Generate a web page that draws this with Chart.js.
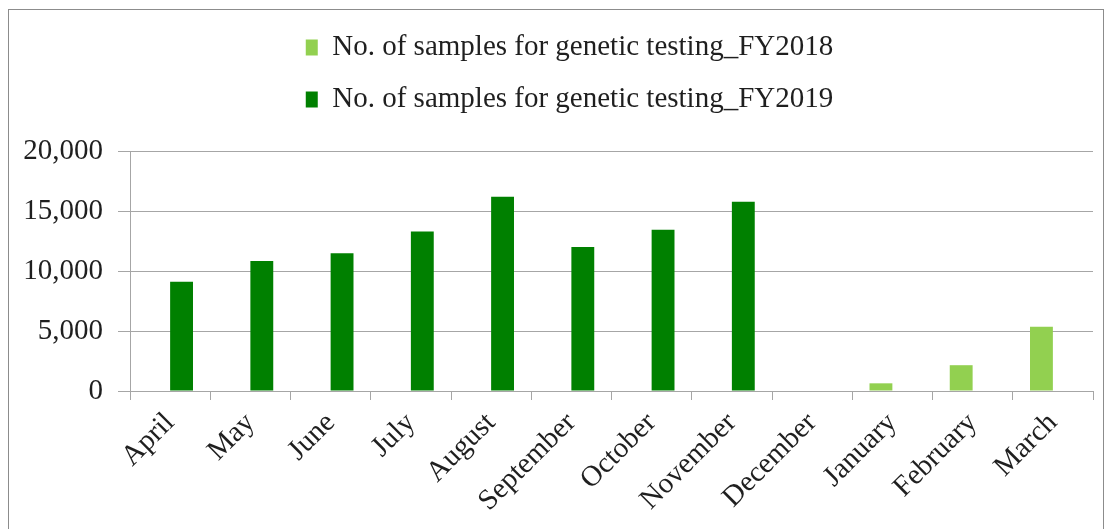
<!DOCTYPE html>
<html><head><meta charset="utf-8">
<script src="https://cdn.jsdelivr.net/npm/chart.js@4"></script>
<style>
html,body{margin:0;padding:0;background:#fff;overflow:hidden}
#frame{position:absolute;left:8px;top:9px;width:1094px;height:530px;border:1px solid #8c8c8c;border-bottom:none;}
#wrap{position:absolute;left:0;top:0;width:1094px;height:519px}
</style></head><body>
<div id="frame"><div id="wrap"><canvas id="c"></canvas></div></div>
<script>
const categories = ["April","May","June","July","August","September","October","November","December","January","February","March"];
const fy2018 = [null,null,null,null,null,null,null,null,null,640,2150,5350];
const fy2019 = [9100,10830,11480,13290,16180,12010,13430,15770,null,null,null,null];
const yTicks = [0,5000,10000,15000,20000];
const seriesNames = ["No. of samples for genetic testing_FY2018","No. of samples for genetic testing_FY2019"];

const FONT = "'Liberation Serif', 'Times New Roman', serif";
const GRID = '#a6a6a6';
const TEXT = '#1f1f1f';

const legendGap = {
  id: 'legendGap',
  beforeInit(chart) {
    const lg = chart.legend;
    const orig = lg.fit;
    lg.fit = function () { orig.call(this); this.height += 27; };
  },
  afterLayout(chart) {
    chart.legend.left += 28;
  }
};

new Chart(document.getElementById('c'), {
  type: 'bar',
  data: {
    labels: categories,
    datasets: [
      { label: seriesNames[0], data: fy2018, backgroundColor: '#92d050', borderWidth: 0 },
      { label: seriesNames[1], data: fy2019, backgroundColor: '#008000', borderWidth: 0 }
    ]
  },
  options: {
    responsive: true,
    maintainAspectRatio: false,
    animation: false,
    devicePixelRatio: 1,
    categoryPercentage: 0.57,
    barPercentage: 1,
    layout: { padding: { left: 9, right: 10, top: 0, bottom: 0 } },
    plugins: {
      tooltip: { enabled: false },
      legend: {
        position: 'top',
        align: 'center',
        labels: {
          font: { family: FONT, size: 29 },
          color: TEXT,
          boxWidth: 12,
          boxHeight: 16,
          padding: 23
        }
      }
    },
    scales: {
      x: {
        grid: { drawOnChartArea: false, color: GRID, tickLength: 9, lineWidth: 1 },
        border: { color: GRID, width: 1 },
        ticks: {
          font: { family: FONT, size: 29 },
          color: TEXT,
          maxRotation: 45,
          minRotation: 45,
          autoSkip: false,
          padding: 6
        },
        afterFit(s) { s.height = 138; }
      },
      y: {
        min: 0,
        max: 20000,
        grid: { color: GRID, tickLength: 12, lineWidth: 1 },
        border: { color: GRID, width: 1 },
        ticks: {
          font: { family: FONT, size: 29 },
          color: TEXT,
          padding: 15,
          callback: v => v.toLocaleString('en-US')
        },
        afterBuildTicks(s) { s.ticks = yTicks.map(v => ({ value: v })); },
        afterFit(s) { s.width = 112; }
      }
    }
  },
  plugins: [legendGap]
});
</script>
</body></html>
